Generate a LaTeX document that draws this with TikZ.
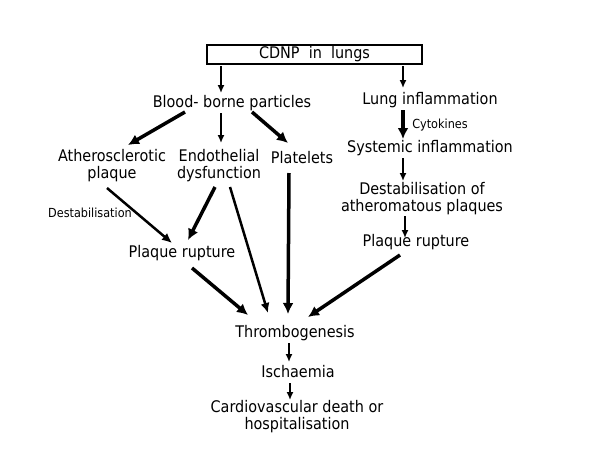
\documentclass[tikz,border=0pt]{standalone}
\usepackage{fontspec}
\setmainfont[FakeStretch=0.9]{DejaVu Sans}
\usetikzlibrary{arrows.meta}
\usetikzlibrary{positioning}

\begin{document}
\begin{tikzpicture}[x=1pt, y=-1pt,
    txt/.style={inner sep=0pt, align=center, font=\fontsize{16}{17}\selectfont},
    lbl/.style={inner sep=0pt, font=\fontsize{12.5}{14}\selectfont},
    thinarr/.style={-{Latex[length=8pt, width=7pt]}, line width=1.5pt},
    midarr/.style={-{Latex[length=10pt, width=9pt]}, line width=2.5pt},
    thickarr/.style={-{Latex[length=11pt, width=11pt]}, line width=3.5pt}]
    \useasboundingbox [fill=white] (0, 0) rectangle (600, 472);

    \node [txt, draw, line width=2.5pt, minimum width=215pt, minimum height=19pt] (cdnp) at (314.5, 54.5) {CDNP\ \ in\ \ lungs};
    \node [txt] (blood) at (232, 103) {Blood- borne particles};
    \node [txt] (lung) at (430, 100) {Lung inflammation};
    \node [lbl] (cyto) at (440, 125) {Cytokines};
    \node [txt] (sys) at (430, 148) {Systemic inflammation};
    \node [txt] (destab) at (422, 199) {Destabilisation of\\atheromatous plaques};
    \node [txt] (prr) at (416, 242) {Plaque rupture};
    \node [txt] (athero) at (112, 166) {Atherosclerotic\\plaque};
    \node [txt] (endo) at (219, 166) {Endothelial\\dysfunction};
    \node [txt] (plate) at (302, 158) {Platelets};
    \node [lbl] (destlbl) at (90, 213) {Destabilisation};
    \node [txt] (prl) at (182, 253) {Plaque rupture};
    \node [txt] (thromb) at (295, 333) {Thrombogenesis};
    \node [txt] (isch) at (298, 372) {Ischaemia};
    \node [txt] (cvd) at (297, 417) {Cardiovascular death or\\hospitalisation};

    % top branches
    \draw [thinarr] ([shift={(-93.5, 11.5)}]cdnp.center) -- ([shift={(-11, -10)}]blood.center);
    \draw [thinarr] ([shift={(88.5, 11.5)}]cdnp.center) -- ([shift={(-27, -12)}]lung.center);

    % right column
    \draw [thickarr] ([shift={(-27, 10)}]lung.center) -- ([shift={(-27, -9)}]sys.center);
    \draw [thinarr] ([shift={(-27, 10)}]sys.center) -- ([shift={(-19, -18)}]destab.center);
    \draw [thinarr] ([shift={(-17, 17)}]destab.center) -- ([shift={(-11, -4)}]prr.center);
    \draw [thickarr] ([shift={(-16, 13)}]prr.center) -- ([shift={(13, -16)}]thromb.center);

    % left part
    \draw [thickarr] ([shift={(-47, 9)}]blood.center) -- ([shift={(16, -21)}]athero.center);
    \draw [thinarr] ([shift={(-11, 10)}]blood.center) -- ([shift={(2, -23)}]endo.center);
    \draw [thickarr] ([shift={(20, 9)}]blood.center) -- ([shift={(-14, -15)}]plate.center);
    \draw [midarr] ([shift={(-5, 22)}]athero.center) -- ([shift={(-10, -10)}]prl.center);
    \draw [thickarr] ([shift={(-4, 21)}]endo.center) -- ([shift={(6, -13)}]prl.center);
    \draw [midarr] ([shift={(11, 21)}]endo.center) -- ([shift={(-27, -20)}]thromb.center);
    \draw [thickarr] ([shift={(-13, 15)}]plate.center) -- ([shift={(-7, -19)}]thromb.center);
    \draw [thickarr] ([shift={(10, 15)}]prl.center) -- ([shift={(-47, -18)}]thromb.center);

    % bottom
    \draw [thinarr] ([shift={(-6, 10)}]thromb.center) -- ([shift={(-9, -10)}]isch.center);
    \draw [thinarr] ([shift={(-8, 11)}]isch.center) -- ([shift={(-7, -17)}]cvd.center);
\end{tikzpicture}
\end{document}
